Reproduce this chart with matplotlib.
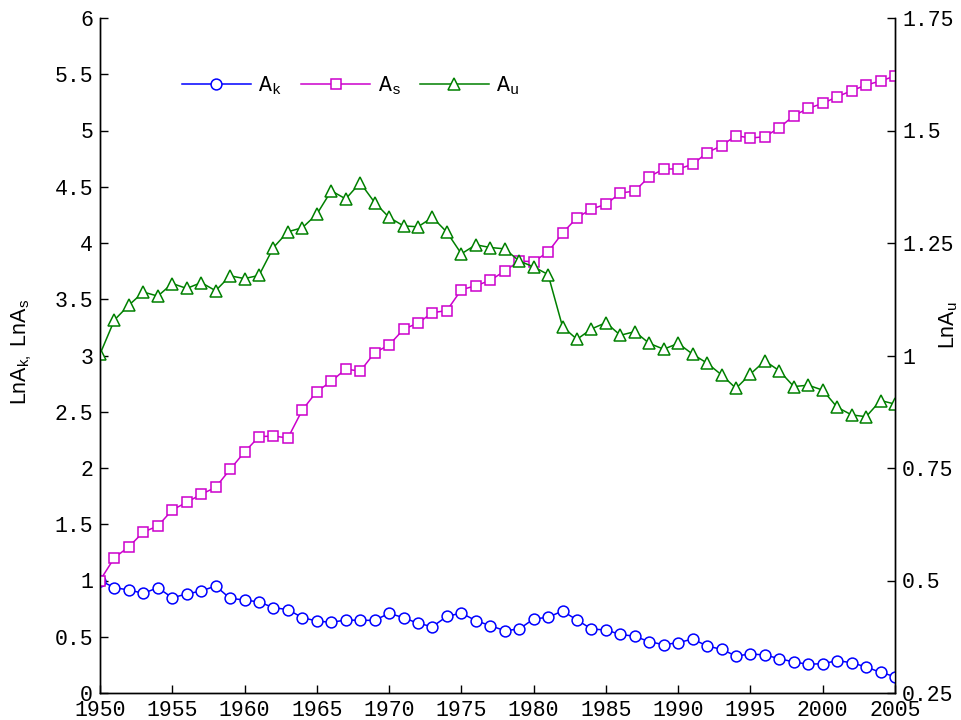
import matplotlib
matplotlib.use("Agg")
import matplotlib.pyplot as plt

# Years covered by the series
years = list(range(1950, 2006))

# Log capital-augmenting term (left axis)
ln_ak = [1.000, 0.936, 0.916, 0.886, 0.936, 0.847, 0.880, 0.907, 0.951, 0.841,
         0.827, 0.809, 0.759, 0.741, 0.670, 0.640, 0.628, 0.649, 0.646, 0.646,
         0.708, 0.670, 0.619, 0.590, 0.681, 0.711, 0.643, 0.599, 0.554, 0.569,
         0.658, 0.673, 0.729, 0.649, 0.569, 0.560, 0.521, 0.504, 0.456, 0.430,
         0.447, 0.480, 0.418, 0.388, 0.329, 0.347, 0.338, 0.305, 0.276, 0.255,
         0.261, 0.287, 0.270, 0.231, 0.184, 0.145]

# Log skilled-labour term (left axis)
ln_as = [1.000, 1.203, 1.300, 1.431, 1.484, 1.627, 1.695, 1.766, 1.828, 1.988,
         2.142, 2.279, 2.284, 2.267, 2.516, 2.680, 2.770, 2.880, 2.860, 3.025,
         3.093, 3.233, 3.289, 3.380, 3.400, 3.585, 3.620, 3.668, 3.751, 3.840,
         3.834, 3.920, 4.089, 4.225, 4.302, 4.344, 4.444, 4.462, 4.590, 4.658,
         4.658, 4.699, 4.803, 4.865, 4.954, 4.933, 4.945, 5.025, 5.132, 5.197,
         5.241, 5.300, 5.354, 5.404, 5.440, 5.484]

# Log unskilled-labour term (right axis)
ln_au = [1.003, 1.079, 1.112, 1.141, 1.132, 1.160, 1.149, 1.162, 1.144, 1.177,
         1.171, 1.178, 1.240, 1.275, 1.284, 1.314, 1.366, 1.348, 1.384, 1.340,
         1.307, 1.288, 1.286, 1.307, 1.274, 1.226, 1.246, 1.240, 1.237, 1.210,
         1.197, 1.180, 1.064, 1.036, 1.059, 1.073, 1.045, 1.053, 1.027, 1.014,
         1.027, 1.003, 0.983, 0.957, 0.927, 0.959, 0.988, 0.966, 0.931, 0.934,
         0.923, 0.885, 0.868, 0.864, 0.900, 0.892]

x_ticks = list(range(1950, 2006, 5))
left_ticks = [0, 0.5, 1, 1.5, 2, 2.5, 3, 3.5, 4, 4.5, 5, 5.5, 6]
right_ticks = [0.25, 0.5, 0.75, 1, 1.25, 1.5, 1.75]

plt.rcParams["mathtext.fontset"] = "custom"
plt.rcParams["mathtext.rm"] = "Liberation Mono"
plt.rcParams["mathtext.tt"] = "Liberation Mono"
plt.rcParams["mathtext.sf"] = "Liberation Sans"
plt.rcParams["mathtext.it"] = "Liberation Mono"

mono = "Liberation Mono"
tick_fs = 15.5

fig = plt.figure(figsize=(9.62, 7.2), dpi=100)
ax = fig.add_axes([100 / 962, 1 - 693 / 720, 795 / 962, 675 / 720])
ax2 = ax.twinx()

c_k, c_s, c_u = "#0000ff", "#cc00cc", "#008000"
lw, mew = 1.1, 1.1

l1, = ax.plot(years, ln_ak, color=c_k, lw=lw, marker="o", ms=7.8,
              mfc="white", mec=c_k, mew=mew, label=r"A$_\mathtt{k}$", zorder=3)
l2, = ax.plot(years, ln_as, color=c_s, lw=lw, marker="s", ms=6.5,
              mfc="white", mec=c_s, mew=mew, label=r"A$_\mathtt{s}$", zorder=4)
l3, = ax2.plot(years, ln_au, color=c_u, lw=lw, marker="^", ms=8,
               mfc="white", mec=c_u, mew=mew, label=r"A$_\mathtt{u}$")

ax.set_xlim(1950, 2005)
ax.set_ylim(0, 6)
ax2.set_ylim(0.25, 1.75)

ax.set_xticks(x_ticks)
ax.set_xticklabels([str(t) for t in x_ticks])
ax.set_yticks(left_ticks)
ax.set_yticklabels([f"{t:g}" for t in left_ticks])
ax2.set_yticks(right_ticks)
ax2.set_yticklabels([f"{t:g}" for t in right_ticks])

for a in (ax, ax2):
    a.spines["top"].set_visible(False)
    for s in a.spines.values():
        s.set_linewidth(1.0)
    a.tick_params(direction="in", length=5.5, width=1.0, labelsize=tick_fs,
                  pad=5)
    for lab in a.get_xticklabels() + a.get_yticklabels():
        lab.set_fontfamily(mono)
ax.tick_params(axis="x", pad=5)
ax.tick_params(axis="y", right=False)
ax2.tick_params(axis="y", left=False)

fig.text(22 / 962, 1 - 352 / 720, r"LnA$_\mathsf{k,}$ LnA$_\mathsf{s}$",
         rotation=90, ha="center", va="center", fontsize=15.5,
         family="Liberation Sans")
fig.text(949 / 962, 1 - 325 / 720, r"LnA$_\mathsf{u}$",
         rotation=90, ha="center", va="center", fontsize=15.5,
         family="Liberation Sans")

ax.legend(handles=[l1, l2, l3], loc="center left",
          bbox_to_anchor=((182 - 100) / 795, (693 - 86) / 675),
          ncol=3, frameon=False, numpoints=1, handlelength=3.2,
          handletextpad=0.35, columnspacing=0.9, borderpad=0,
          borderaxespad=0, prop={"family": mono, "size": tick_fs})

fig.savefig("out.png", dpi=100)
